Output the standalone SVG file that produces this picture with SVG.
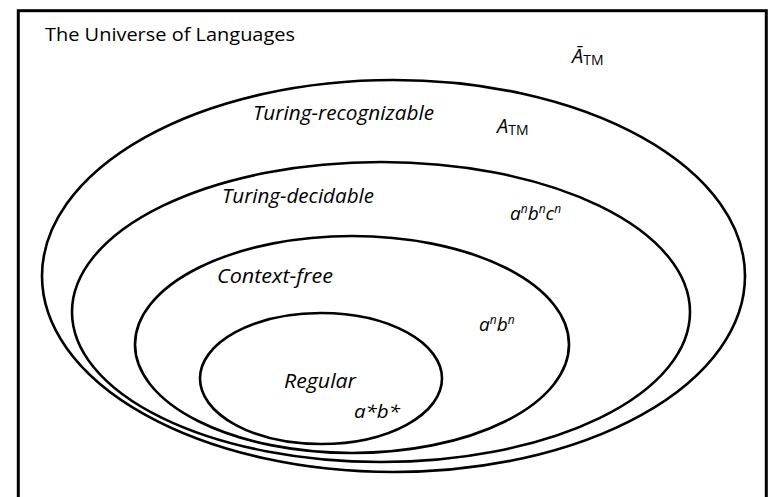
<svg xmlns="http://www.w3.org/2000/svg" width="768" height="497" viewBox="0 0 768 497">
<style>
.set{fill:none;stroke:#000;stroke-width:2.6}
.t{font-family:"Open Sans","Liberation Sans",sans-serif;fill:#000}
.i{font-style:italic}
.sub{font-style:normal;font-size:14px}
.sup{font-size:12px}
</style>
<rect x="0" y="0" width="768" height="497" fill="#fff"/>
<rect x="18.3" y="10.7" width="748" height="500" fill="none" stroke="#000" stroke-width="3"/>
<text class="t" x="45" y="41" font-size="18" textLength="250" lengthAdjust="spacingAndGlyphs">The Universe of Languages</text>
<g id="co-re">
<text class="t i" x="572" y="63" font-size="20">Ā<tspan class="sub" dy="2">TM</tspan></text>
</g>
<g id="turing-recognizable">
<ellipse class="set" cx="393.5" cy="276" rx="351.5" ry="196"/>
<text class="t i" x="253" y="120" font-size="20" textLength="181" lengthAdjust="spacingAndGlyphs">Turing-recognizable</text>
<text class="t i" x="497" y="133" font-size="20">A<tspan class="sub" dy="2">TM</tspan></text>
</g>
<g id="turing-decidable">
<ellipse class="set" cx="381" cy="312" rx="309" ry="150"/>
<text class="t i" x="222" y="203" font-size="20" textLength="152" lengthAdjust="spacingAndGlyphs">Turing-decidable</text>
<text class="t i" x="510" y="220" font-size="19">a<tspan class="sup" dy="-7">n</tspan><tspan dy="7">b</tspan><tspan class="sup" dy="-7">n</tspan><tspan dy="7">c</tspan><tspan class="sup" dy="-7">n</tspan></text>
</g>
<g id="context-free">
<ellipse class="set" cx="352" cy="344.5" rx="217" ry="108.5"/>
<text class="t i" x="217" y="283" font-size="20" textLength="116" lengthAdjust="spacingAndGlyphs">Context-free</text>
<text class="t i" x="479" y="331" font-size="19">a<tspan class="sup" dy="-7">n</tspan><tspan dy="7">b</tspan><tspan class="sup" dy="-7">n</tspan></text>
</g>
<g id="regular">
<ellipse class="set" cx="321" cy="378.5" rx="121" ry="65.5"/>
<text class="t i" x="284" y="388" font-size="20" textLength="72" lengthAdjust="spacingAndGlyphs">Regular</text>
<text class="t i" x="354" y="418" font-size="19" textLength="46" lengthAdjust="spacingAndGlyphs">a*b*</text>
</g>
<g id="connectors"></g>
</svg>
